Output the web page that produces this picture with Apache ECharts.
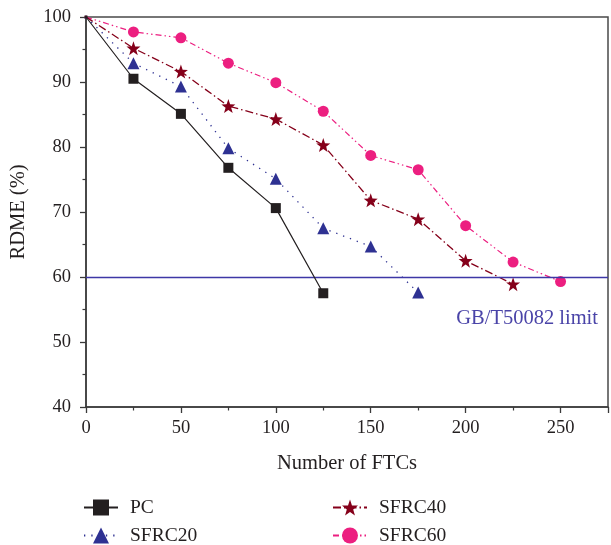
<!DOCTYPE html>
<html>
<head>
<meta charset="utf-8">
<script src="https://cdn.jsdelivr.net/npm/echarts@6/dist/echarts.min.js"></script>
<style>
  html, body { margin: 0; padding: 0; background: #fff; }
  #chart { width: 611px; height: 545px; }
</style>
</head>
<body>
<div id="chart"></div>
<script>
// Freeze-thaw cycles (x) and relative dynamic modulus of elasticity (%)
const ftc = [0, 25, 50, 75, 100, 125, 150, 175, 200, 225, 250];
const pc      = [100, 90.5, 85.1, 76.8, 70.6, 57.5];
const sfrc20  = [100, 92.9, 89.3, 79.8, 75.1, 67.5, 64.7, 57.6];
const sfrc40  = [100, 95.2, 91.6, 86.3, 84.3, 80.3, 71.8, 68.9, 62.5, 58.9];
const sfrc60  = [100, 97.7, 96.8, 92.9, 89.9, 85.5, 78.7, 76.5, 67.9, 62.3, 59.3];
const limitValue = 60;
const limitLabel = 'GB/T50082 limit';

const font = '"Liberation Serif", "DejaVu Serif", serif';
const pairs = vals => vals.map((v, i) => [ftc[i], v]);
// the shared starting point is drawn as a tiny marker
const sizeFn = big => (val, p) => (p.dataIndex === 0 ? 3 : big);

const chart = echarts.init(document.getElementById('chart'), null, { renderer: 'canvas' });

const axisCommon = {
  axisLine: { show: true, lineStyle: { color: '#3a3a3a', width: 1.5 } },
  axisTick: { show: true, length: 6, lineStyle: { color: '#3a3a3a', width: 1.3 } },
  minorTick: { show: true, splitNumber: 2, length: 3.5, lineStyle: { color: '#3a3a3a', width: 1.2 } },
  splitLine: { show: false },
  axisLabel: { color: '#231f20', fontFamily: font, fontSize: 18.5 },
  nameTextStyle: { color: '#231f20', fontFamily: font, fontSize: 20.5 }
};

const legendCommon = {
  orient: 'vertical', itemGap: 5, padding: 0, height: 80,
  itemWidth: 34, itemHeight: 20,
  textStyle: { color: '#231f20', fontFamily: font, fontSize: 19.5, lineHeight: 23, padding: [0, 0, 0, 7] }
};

chart.setOption({
  animation: false,
  backgroundColor: '#fff',
  grid: {
    left: 85, right: 3, top: 17, bottom: 138,
    show: true, borderColor: '#4a4a4a', borderWidth: 1.5, backgroundColor: 'transparent'
  },
  xAxis: Object.assign({}, axisCommon, {
    type: 'value', min: 0, max: 275, interval: 50,
    name: 'Number of FTCs', nameLocation: 'middle', nameGap: 46,
    axisLabel: Object.assign({}, axisCommon.axisLabel, { margin: 12,
      formatter: v => (v % 50 === 0 && v <= 250 ? v : '') })
  }),
  yAxis: Object.assign({}, axisCommon, {
    type: 'value', min: 40, max: 100, interval: 10,
    name: 'RDME (%)', nameLocation: 'middle', nameGap: 57, nameRotate: 90,
    axisLabel: Object.assign({}, axisCommon.axisLabel, { margin: 15 })
  }),
  legend: [
    Object.assign({}, legendCommon, { left: 83, top: 496, data: ['PC', 'SFRC20'] }),
    Object.assign({}, legendCommon, { left: 332, top: 496, data: ['SFRC40', 'SFRC60'] })
  ],
  series: [
    {
      name: 'SFRC60', type: 'line', data: pairs(sfrc60),
      symbol: 'circle', symbolSize: sizeFn(11),
      itemStyle: { color: '#ec1f80' },
      lineStyle: { color: '#ec1f80', width: 1.2, type: [6, 3, 1.5, 3, 1.5, 3] },
      z: 2
    },
    {
      name: 'SFRC40', type: 'line', data: pairs(sfrc40),
      symbol: 'path://M0,-10 L2.35,-3.24 L9.51,-3.09 L3.8,1.24 L5.88,8.09 L0,4 L-5.88,8.09 L-3.8,1.24 L-9.51,-3.09 L-2.35,-3.24 Z',
      symbolSize: sizeFn(14),
      itemStyle: { color: '#85001a' },
      lineStyle: { color: '#85001a', width: 1.3, type: [8, 3, 1.5, 3] },
      z: 3
    },
    {
      name: 'SFRC20', type: 'line', data: pairs(sfrc20),
      symbol: 'triangle', symbolSize: sizeFn(12),
      itemStyle: { color: '#2e3192' },
      lineStyle: { color: '#2e3192', width: 1.3, type: [1.3, 6] },
      z: 4
    },
    {
      name: 'PC', type: 'line', data: pairs(pc),
      symbol: 'rect', symbolSize: sizeFn(10),
      itemStyle: { color: '#231f20' },
      lineStyle: { color: '#231f20', width: 1.2, type: 'solid' },
      z: 5,
      markLine: {
        silent: true, symbol: 'none',
        lineStyle: { color: '#3d37a6', width: 1.4, type: 'solid' },
        label: {
          show: true, position: 'insideEndBottom', formatter: limitLabel,
          color: '#4a44a8', fontFamily: font, fontSize: 20.5, distance: [10, 31]
        },
        data: [{ yAxis: limitValue }]
      }
    }
  ]
});
</script>
</body>
</html>
